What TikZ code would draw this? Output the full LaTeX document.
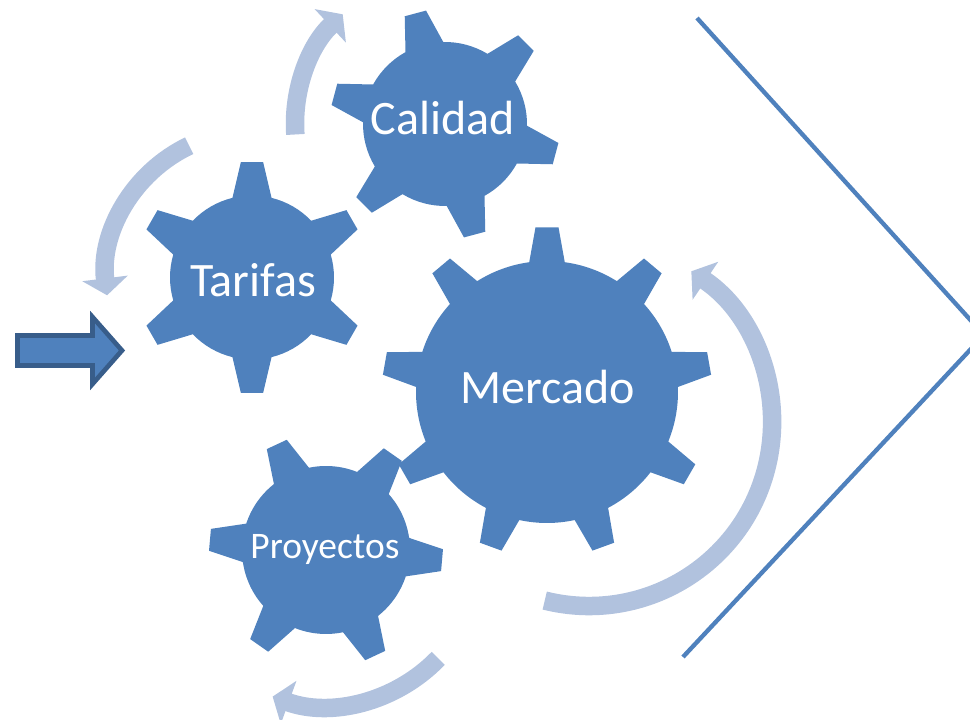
\documentclass[tikz,border=0pt]{standalone}
\usepackage{fontspec}
\setmainfont{Carlito}
\usepackage{tikz}
\usetikzlibrary{arrows.meta}
\definecolor{gearblue}{HTML}{4F81BD}
\definecolor{cyclefill}{HTML}{B1C2DE}
\definecolor{arrowedge}{HTML}{385D8A}
\newcommand{\pxu}{0.3mm}
\newcommand{\geardraw}[7]{%
	\begin{scope}[shift={(#1)}]
	\fill[gearblue] ({#5-#6}:#3)
	\foreach \k in {1,...,#2}{
		-- ({#5+(\k-1)*360/#2-#7}:#4) -- ({#5+(\k-1)*360/#2+#7}:#4)
		-- ({#5+(\k-1)*360/#2+#6}:#3)
		arc[start angle={#5+(\k-1)*360/#2+#6}, end angle={#5+\k*360/#2-#6}, radius={#3*\pxu}]
	} -- cycle;
	\end{scope}}

\begin{document}
\begin{tikzpicture}[x=\pxu,y=\pxu,
	geartext/.style={text=white,anchor=base,inner sep=0pt,font=\fontsize{41}{49}\selectfont},
	cyclearrow/.style={draw=cyclefill,line width=5.55mm,-{Triangle[width=13.5mm,length=5.1mm]}},
	chevron/.style={draw=gearblue,line width=1.3mm},
	]
	\useasboundingbox (0,0) rectangle (970,720);
	\coordinate (calidadc) at (445,596);
	\coordinate (tarifasc) at (252,442.5);
	\coordinate (mercadoc) at (547,328);
	\coordinate (proyectosc) at (326,170);
	\coordinate (mercadoarc) at (589,297);
	\geardraw{calidadc}{6}{82}{115}{45}{13.8}{5.5}
	\geardraw{tarifasc}{6}{82}{116}{30}{13.8}{5.5}
	\geardraw{mercadoc}{9}{131}{165}{90}{7.8}{4.0}
	\geardraw{proyectosc}{6}{84}{117}{-5}{13.3}{5.4}
	\node[geartext] (calidad) at (443,585) {Calidad};
	\node[geartext] (tarifas) at (253,423) {Tarifas};
	\node[geartext] (mercado) at (548,316) {Mercado};
	\node[geartext,font=\fontsize{32}{38}\selectfont] (proyectos) at (325,161) {Proyectos};
	\draw[cyclearrow] ([shift={(184:150)}]calidadc) arc[start angle=184, end angle=133, radius=45mm];
	\draw[cyclearrow] ([shift={(115.5:146)}]tarifasc) arc[start angle=115.5, end angle=187, radius=43.8mm];
	\draw[cyclearrow] ([shift={(-104:183)}]mercadoarc) arc[start angle=-104, end angle=56, radius=54.9mm];
	\draw[cyclearrow] ([shift={(-44:156)}]proyectosc) arc[start angle=-44, end angle=-110, radius=46.8mm];
	\draw[draw=arrowedge,fill=gearblue,line width=1.4mm] (17.5,384.5) -- (92.5,384.5) -- (92.5,403) -- (122,369.5) -- (92.5,336) -- (92.5,354.5) -- (17.5,354.5) -- cycle;
	\coordinate (chevtop) at (697,702);
	\coordinate (chevtip) at (984,385);
	\coordinate (chevbot) at (683,63);
	\draw[chevron] (chevtop) -- (chevtip) -- (chevbot);
\end{tikzpicture}
\end{document}
